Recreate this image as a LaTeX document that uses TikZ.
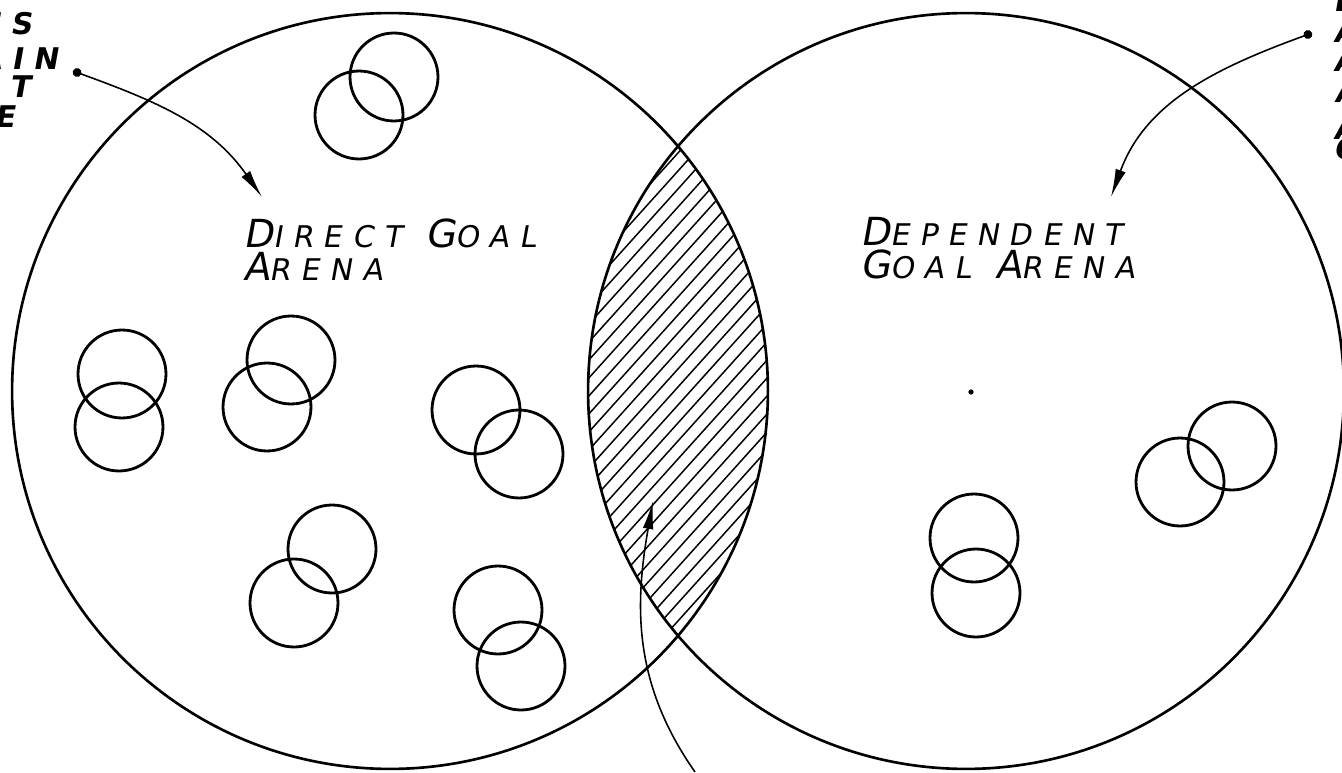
\documentclass[tikz,border=0pt]{standalone}
\usepackage{fontspec}
\setmainfont{DejaVu Sans}
\newfontfamily\handfont[FakeSlant=0.18,LetterSpace=34]{DejaVu Sans}
\usepackage{tikz}
\usetikzlibrary{arrows.meta}
% first letter large, rest small, as lettered by hand
\newcommand{\hw}[2]{{\fontsize{22}{22}\selectfont #1}{\fontsize{17}{19}\selectfont #2}}

\begin{document}
\begin{tikzpicture}[
  x=0.02cm, y=0.02cm,
  arena/.style={draw, circle, line width=1.5pt, minimum size=15.12cm, inner sep=0pt},
  ring/.style={draw, circle, line width=1.6pt, minimum size=1.76cm, inner sep=0pt},
  hatch/.style={line width=0.85pt},
  handtext/.style={font=\handfont\fontsize{17}{19}\selectfont, inner sep=0pt, align=left},
  edgetext/.style={font=\handfont\bfseries\fontsize{17}{17}\selectfont, inner sep=0pt},
  pointer/.style={-{Latex[length=16pt,width=6pt]}, line width=0.9pt},
  tagged/.style={pointer, {Circle[length=5pt]}-{Latex[length=16pt,width=6pt]}}
]
\useasboundingbox (0,0) rectangle (1342,772);
\clip (0,0) rectangle (1342,772);

\node[arena] (direct) at (390,381) {};
\node[arena] (dependent) at (966,381) {};

% shared part of the two arenas
\begin{scope}
  \clip (direct.center) circle (7.56cm);
  \clip (dependent.center) circle (7.56cm);
  \foreach \k in {0,...,46}
    \draw[hatch] (560,-160+\k*18) -- ++(48:450);
\end{scope}

% overlapping pairs
\foreach \n/\x/\y in {t1/394/695, t2/359/657, a1/122/398, a2/119/345,
    b1/291/412, b2/267/365, c1/476/362, c2/519/318, d1/332/223, d2/294/169,
    e1/498/162, e2/521/106, f1/974/234, f2/976/179, g1/1232/326, g2/1180/290}
  \node[ring] (\n) at (\x,\y) {};

\node[handtext, anchor=north west] (directlbl) at (243,554)
  {\hw{D}{IRECT}\hspace{14pt}\hw{G}{OAL}\\\hw{A}{RENA}};
\node[handtext, anchor=north west] (dependentlbl) at (860,555)
  {\hw{D}{EPENDENT}\\\hw{G}{OAL}\hspace{14pt}\hw{A}{RENA}};

% lettering cut by the page edges
\node[edgetext, anchor=base east] (leftl1) at (32,737) {IS};
\node[edgetext, anchor=base east] (leftl2) at (58,702) {AIN};
\node[edgetext, anchor=base east] (leftl3) at (30,674) {T};
\node[edgetext, anchor=base east] (leftl4) at (15,644) {E};
\node[edgetext, anchor=base west] (rightl1) at (1333,760) {D};
\node[edgetext, anchor=base west] (rightl2) at (1333,729) {A};
\node[edgetext, anchor=base west] (rightl3) at (1333,700) {A};
\node[edgetext, anchor=base west] (rightl4) at (1334,669) {A};
\node[edgetext, anchor=base west] (rightl5) at (1333,632) {A};
\node[edgetext, anchor=base west] (rightl6) at (1333,612) {C};

\node[fill, circle, inner sep=0pt, minimum size=3pt] (speck) at (971,380) {};

\coordinate (fromL) at (73,701);
\coordinate (toL) at (262,575);
\coordinate (fromR) at (1312,739);
\coordinate (toR) at (1111,575);
\coordinate (fromB) at (695,0);
\coordinate (toB) at (653,271);
\draw[tagged] (fromL) to[out=-20, in=125] (toL);
\draw[tagged] (fromR) to[out=200, in=70] (toR);
\draw[pointer] (fromB) to[out=125, in=-100] (toB);
\end{tikzpicture}
\end{document}
